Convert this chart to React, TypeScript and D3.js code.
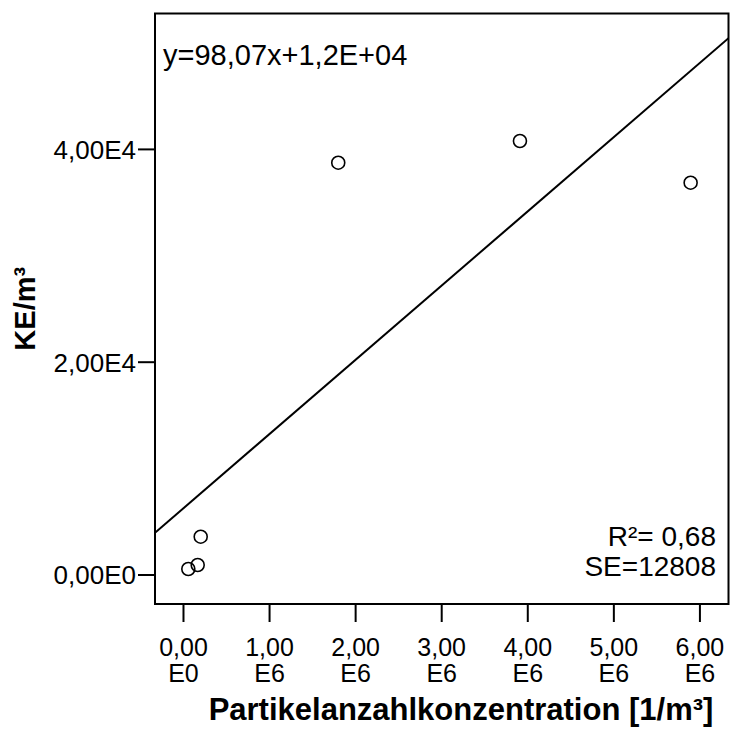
import React from "react";
import * as d3 from "d3";

const xValues = [0.056e6, 0.165e6, 0.2e6, 1.798e6, 3.909e6, 5.892e6];
const yValues = [564, 940, 3600, 38750, 40790, 36870];
const xTicks = [0, 1e6, 2e6, 3e6, 4e6, 5e6, 6e6];
const xTickLine1 = ["0,00", "1,00", "2,00", "3,00", "4,00", "5,00", "6,00"];
const xTickLine2 = ["E0", "E6", "E6", "E6", "E6", "E6", "E6"];
const yTicks = [0, 2e4, 4e4];
const yTickLabels = ["0,00E0", "2,00E4", "4,00E4"];
const equationText = "y=98,07x+1,2E+04";
const r2Text = "R²= 0,68";
const seText = "SE=12808";
const xTitle = "Partikelanzahlkonzentration [1/m³]";
const yTitle = "KE/m³";

const W = 730;
const H = 729;
const L = 155, R = 728.5, T = 13.5, B = 604;
const font = "'Liberation Sans', Arial, sans-serif";

export default function App() {
  const x = d3.scaleLinear().domain([-0.331e6, 6.332e6]).range([L, R]);
  const y = d3.scaleLinear().domain([-2726, 52773]).range([B, T]);

  // least squares fit
  const mx = d3.mean(xValues)!;
  const my = d3.mean(yValues)!;
  let sxy = 0, sxx = 0;
  xValues.forEach((v, i) => { sxy += (v - mx) * (yValues[i] - my); sxx += (v - mx) * (v - mx); });
  const slope = sxy / sxx;
  const intercept = my - slope * mx;
  const [x0, x1] = x.domain();
  const lineY = (xv: number) => intercept + slope * xv;

  return (
    <svg width={W} height={H} style={{ position: "absolute", left: 0, top: 0, background: "#fff" }} fontFamily={font}>
      <rect x={0} y={0} width={W} height={H} fill="#fff" />
      <defs>
        <clipPath id="plotclip"><rect x={L} y={T} width={R - L} height={B - T} /></clipPath>
      </defs>
      <g clipPath="url(#plotclip)">
        <line x1={x(x0)} y1={y(lineY(x0))} x2={x(x1)} y2={y(lineY(x1))} stroke="#000" strokeWidth={2} />
      </g>
      {xValues.map((v, i) => (
        <circle key={i} cx={x(v)} cy={y(yValues[i])} r={6.5} fill="none" stroke="#000" strokeWidth={1.6} />
      ))}
      <rect x={L} y={T} width={R - L} height={B - T} fill="none" stroke="#000" strokeWidth={2} />
      {yTicks.map((t, i) => (
        <g key={i}>
          <line x1={L - 17} x2={L} y1={y(t)} y2={y(t)} stroke="#000" strokeWidth={2} />
          <text x={L - 19} y={y(t)} dy="0.36em" textAnchor="end" fontSize={26}>{yTickLabels[i]}</text>
        </g>
      ))}
      {xTicks.map((t, i) => (
        <g key={i}>
          <line x1={x(t)} x2={x(t)} y1={B} y2={B + 18} stroke="#000" strokeWidth={2} />
          <text x={x(t)} y={656} textAnchor="middle" fontSize={25}>{xTickLine1[i]}</text>
          <text x={x(t)} y={682} textAnchor="middle" fontSize={25}>{xTickLine2[i]}</text>
        </g>
      ))}
      <text x={163} y={65} fontSize={29}>{equationText}</text>
      <text x={716} y={546} textAnchor="end" fontSize={28}>{r2Text}</text>
      <text x={716} y={576} textAnchor="end" fontSize={28}>{seText}</text>
      <text x={461} y={720} textAnchor="middle" fontSize={31} fontWeight="bold">{xTitle}</text>
      <text transform={`translate(35,${(T + B) / 2}) rotate(-90)`} textAnchor="middle" fontSize={29} fontWeight="bold">{yTitle}</text>
    </svg>
  );
}
